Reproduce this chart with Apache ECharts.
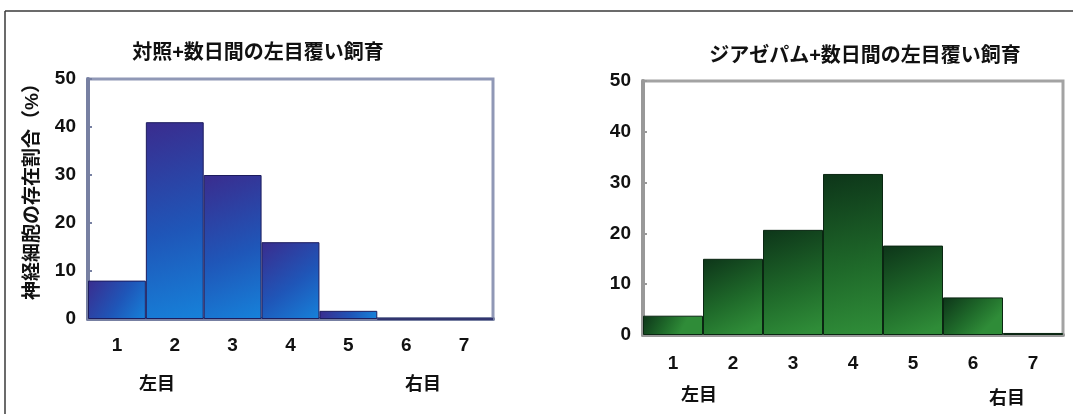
<!DOCTYPE html>
<html>
<head>
<meta charset="utf-8">
<script src="https://cdn.jsdelivr.net/npm/echarts@6/dist/echarts.min.js"></script>
<style>
  html, body { margin: 0; padding: 0; background: #fff; }
  #main { width: 1073px; height: 414px; }
</style>
</head>
<body>
<div id="main"></div>
<script>
// 階級 (1 = 左目優位 ... 7 = 右目優位)
var categories = ['1', '2', '3', '4', '5', '6', '7'];
// 対照 (%)
var controlValues = [8, 41, 30, 16, 1.7, 0, 0];
// ジアゼパム (%)
var diazepamValues = [3.8, 15, 20.7, 31.7, 17.6, 7.4, 0.4];
var yTicks = [0, 10, 20, 30, 40, 50];

var titleLeft = '対照+数日間の左目覆い飼育';
var titleRight = 'ジアゼパム+数日間の左目覆い飼育';
var yName = '神経細胞の存在割合（%）';

var FONT = '"Liberation Sans", "Noto Sans CJK JP", sans-serif';

var myChart = echarts.init(document.getElementById('main'));

function xAxisOf(gridIndex, color, margin) {
    return {
        type: 'category',
        gridIndex: gridIndex,
        data: categories,
        boundaryGap: true,
        axisLine: { lineStyle: { color: color, width: 4 } },
        axisTick: { inside: true, length: 4, lineStyle: { color: color, width: 2 } },
        axisLabel: { margin: margin, color: '#111', fontSize: 19, fontWeight: 'bold', fontFamily: FONT },
        splitLine: { show: false }
    };
}

function yAxisOf(gridIndex, color, withName) {
    var ax = {
        type: 'value',
        gridIndex: gridIndex,
        min: yTicks[0],
        max: yTicks[yTicks.length - 1],
        interval: yTicks[1] - yTicks[0],
        axisLine: { show: true, lineStyle: { color: color, width: 4 } },
        axisTick: { show: true, inside: true, length: 4, lineStyle: { color: color, width: 2 } },
        axisLabel: { margin: 12, color: '#111', fontSize: 19, fontWeight: 'bold', fontFamily: FONT },
        splitLine: { show: false }
    };
    if (withName) {
        ax.name = yName;
        ax.nameLocation = 'middle';
        ax.nameRotate = 90;
        ax.nameGap = 46;
        ax.nameTextStyle = { color: '#111', fontSize: 19, fontWeight: 'bold', fontFamily: FONT, padding: [0, 0, 0, 24] };
    }
    return ax;
}

var textStyle = { color: '#111', fontSize: 18, fontWeight: 'bold', fontFamily: FONT };
var titleStyle = { color: '#111', fontSize: 20, fontWeight: 'bold', fontFamily: FONT };

myChart.setOption({
    backgroundColor: '#fff',
    animation: false,
    title: [
        { text: titleLeft, left: 258, top: 43, padding: 0, textAlign: 'center', textStyle: titleStyle },
        { text: titleRight, left: 865, top: 46, padding: 0, textAlign: 'center', textStyle: titleStyle },
        { text: '左目', left: 139, top: 376, padding: 0, textStyle: textStyle },
        { text: '右目', left: 405, top: 376, padding: 0, textStyle: textStyle },
        { text: '左目', left: 681, top: 387, padding: 0, textStyle: textStyle },
        { text: '右目', left: 989, top: 390, padding: 0, textStyle: textStyle }
    ],
    grid: [
        { left: 88, right: 580, top: 79, bottom: 95, show: true, borderColor: '#9098b6', borderWidth: 3, backgroundColor: 'transparent' },
        { left: 643, right: 10, top: 81, bottom: 79, show: true, borderColor: '#a3a3a3', borderWidth: 3, backgroundColor: 'transparent' }
    ],
    xAxis: [
        xAxisOf(0, '#7780a2', 17),
        xAxisOf(1, '#999999', 19)
    ],
    yAxis: [
        yAxisOf(0, '#7780a2', true),
        yAxisOf(1, '#999999', false)
    ],
    series: [
        {
            name: '対照',
            type: 'bar',
            xAxisIndex: 0,
            yAxisIndex: 0,
            data: controlValues,
            barCategoryGap: '0%',
            itemStyle: {
                color: new echarts.graphic.LinearGradient(0, 0, 1, 1, [
                    { offset: 0, color: '#3a2c8e' },
                    { offset: 0.55, color: '#1f56b8' },
                    { offset: 1, color: '#1682da' }
                ]),
                borderColor: '#1c1c5e',
                borderWidth: 1
            }
        },
        {
            name: 'ジアゼパム',
            type: 'bar',
            xAxisIndex: 1,
            yAxisIndex: 1,
            data: diazepamValues,
            barCategoryGap: '0%',
            itemStyle: {
                color: new echarts.graphic.LinearGradient(0, 0, 0.6, 1, [
                    { offset: 0, color: '#0d3519' },
                    { offset: 0.6, color: '#1f6a2a' },
                    { offset: 1, color: '#2f8c38' }
                ]),
                borderColor: '#0a2612',
                borderWidth: 1
            }
        }
    ],
    graphic: [
        { type: 'line', shape: { x1: 5, y1: 11, x2: 1073, y2: 11 }, style: { stroke: '#3a3a3a', lineWidth: 1.5 } },
        { type: 'line', shape: { x1: 5, y1: 11, x2: 5, y2: 414 }, style: { stroke: '#3a3a3a', lineWidth: 1.5 } }
    ]
});
</script>
</body>
</html>
